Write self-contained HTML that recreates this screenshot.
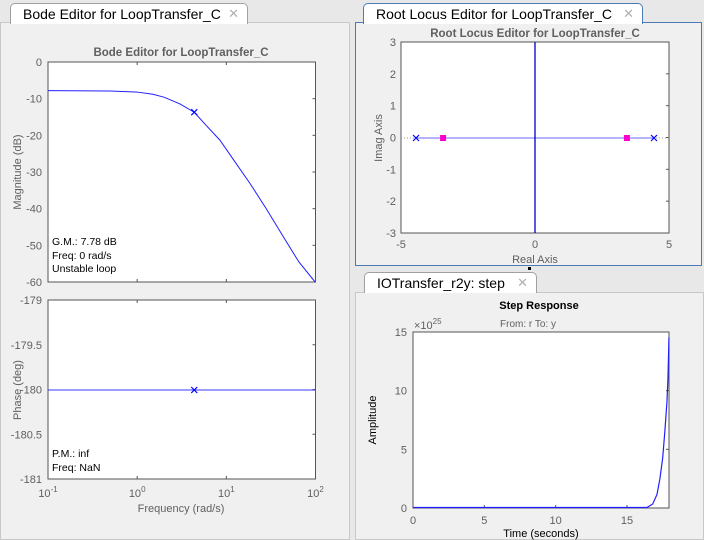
<!DOCTYPE html>
<html><head><meta charset="utf-8"><style>
body{margin:0;width:704px;height:540px;background:#e8e8e8;font-family:"Liberation Sans",sans-serif;overflow:hidden;position:relative}
.panel{position:absolute;background:#f0f0f0}
.tab{position:absolute;background:#fff;border:1px solid #a0a0a0;border-bottom:none;border-radius:5px 5px 0 0;font-size:14px;color:#000;padding-left:12px;box-sizing:border-box;line-height:20px}
.tab span{position:absolute;right:8px;top:0;color:#b0b0b0;font-size:13px}
svg{position:absolute;left:0;top:0}
</style></head><body>
<div class="panel" style="left:0;top:22px;width:350px;height:518px;border:1px solid #c8c8c8;box-sizing:border-box"></div>
<div class="panel" style="left:355px;top:22px;width:347px;height:244px;border:1px solid #4a7bb5;box-sizing:border-box"></div>
<div class="panel" style="left:355px;top:292px;width:349px;height:248px;border:1px solid #c8c8c8;box-sizing:border-box"></div>
<div class="tab" style="left:10px;top:3px;width:238px;height:21px">Bode Editor for LoopTransfer_C<span>✕</span></div>
<div class="tab" style="left:363px;top:3px;width:280px;height:21px;border-color:#4a7bb5">Root Locus Editor for LoopTransfer_C<span>✕</span></div>
<div class="tab" style="left:364px;top:272px;width:173px;height:21px">IOTransfer_r2y: step<span>✕</span></div>
<svg id="s" width="704" height="540"></svg>
<script>
const bodeFreq=[0.1,0.5,1,1.5,2,3,4.37,6,8.47,12,18.4,28,43.4,65,99];
const bodeMag=[-7.8,-7.9,-8.2,-8.8,-9.6,-11.4,-13.7,-17.4,-21.3,-26.6,-33.1,-40,-47.6,-54.5,-60];
const bodeMarkerFreq=4.37, bodeMarkerMag=-13.7;
const phaseFreq=[0.1,100]; const phaseVal=[-180,-180];
const magTicks=[0,-10,-20,-30,-40,-50,-60];
const phaseTicks=[-179,-179.5,-180,-180.5,-181];
const freqTicks=[-1,0,1,2];
const rlPoles=[-4.44,4.44]; const rlZeros=[-3.43,3.43];
const rlXTicks=[-5,0,5]; const rlYTicks=[3,2,1,0,-1,-2,-3];
const stepT=[0,16.4,16.8,17.1,17.3,17.5,17.66,17.8,17.87,17.94];
const stepY=[0,0,0.3,1.1,2.4,4.2,6.6,9,11,14.5];
const stepXTicks=[0,5,10,15]; const stepYTicks=[0,5,10,15];
const S=document.getElementById('s');const NS='http://www.w3.org/2000/svg';
function el(t,a,txt){const e=document.createElementNS(NS,t);for(const k in a)e.setAttribute(k,a[k]);if(txt!==undefined)e.textContent=txt;S.appendChild(e);return e;}
function txt(x,y,s,name,opt){opt=opt||{};const e=el('text',{x:x,y:y,'font-size':opt.fs||11,fill:opt.fill||'#606060','text-anchor':opt.anchor||'middle','font-weight':opt.fw||'normal','font-family':'Liberation Sans, sans-serif'},s);if(opt.rot)e.setAttribute('transform','rotate(-90 '+x+' '+y+')');return e;}
function box(x0,y0,x1,y1,name){const r=el('rect',{x:x0,y:y0,width:x1-x0,height:y1-y0,fill:'#fff',stroke:'#555','stroke-width':1});}
function cross(x,y,name){const p=el('path',{d:`M${x-3},${y-3}L${x+3},${y+3}M${x-3},${y+3}L${x+3},${y-3}`,stroke:'#0000ff','stroke-width':1.2,fill:'none'});}
function line(pts,name,c,w){const p=el('polyline',{points:pts.map(q=>q.join(',')).join(' '),fill:'none',stroke:c,'stroke-width':w||1});return p;}
// Bode
const bx0=48,bx1=315.5;const fx=f=>bx0+(Math.log10(f)+1)/3*(bx1-bx0);
const my=v=>62+(-v)/60*220; const py=v=>300+(-179-v)/2*179;
txt(181,56,'Bode Editor for LoopTransfer_C','bode-title',{fw:'bold',fs:11.5});
box(bx0,62,bx1,282,'magnitude-axes');box(bx0,300,bx1,479,'phase-axes');
magTicks.forEach(v=>{txt(42,my(v)+4,String(v),'mag-tick-label',{anchor:'end'});el('line',{x1:bx1-3,x2:bx1,y1:my(v),y2:my(v),stroke:'#555'});});
phaseTicks.forEach(v=>{txt(42,py(v)+4,String(v),'phase-tick-label',{anchor:'end'});el('line',{x1:bx1-3,x2:bx1,y1:py(v),y2:py(v),stroke:'#555'});});
freqTicks.forEach(k=>{const x=fx(Math.pow(10,k));const t=txt(x,497,'','freq-tick-label',{});t.innerHTML='10<tspan dy="-5" font-size="8">'+k+'</tspan>';
 [62,300].forEach(y=>el('line',{x1:x,x2:x,y1:y,y2:y+3,stroke:'#555'}));[282,479].forEach(y=>el('line',{x1:x,x2:x,y1:y,y2:y-3,stroke:'#555'}));});
txt(181,512,'Frequency (rad/s)','freq-axis-title',{});
txt(21,172,'Magnitude (dB)','mag-axis-title',{rot:1});
txt(21,390,'Phase (deg)','phase-axis-title',{rot:1});
line(bodeFreq.map((f,i)=>[fx(f),my(bodeMag[i])]),'magnitude-curve','#2020ff');
cross(fx(bodeMarkerFreq),my(bodeMarkerMag),'magnitude-marker');
line(phaseFreq.map((f,i)=>[fx(f),py(phaseVal[i])+0.5]),'phase-curve','#3a3aff');
cross(fx(bodeMarkerFreq),py(-180)+0.5,'phase-marker');
[['G.M.: 7.78 dB',245],['Freq: 0 rad/s',259],['Unstable loop',272]].forEach((a,i)=>txt(52,a[1],a[0],'gain-margin-text-'+i,{anchor:'start',fill:'#000',fs:10.5}));
[['P.M.: inf',457],['Freq: NaN',471]].forEach((a,i)=>txt(52,a[1],a[0],'phase-margin-text-'+i,{anchor:'start',fill:'#000',fs:10.5}));
// Root locus
const rx=v=>401+(v+5)/10*(669-401); const ry=v=>42+(3-v)/6*(233-42);
txt(535,37,'Root Locus Editor for LoopTransfer_C','root-locus-title',{fw:'bold',fs:11.5});
box(401,42,669,233,'root-locus-axes');
rlYTicks.forEach(v=>{txt(396,ry(v)+4,String(v),'rl-y-tick-label',{anchor:'end'});el('line',{x1:669-3,x2:669,y1:ry(v),y2:ry(v),stroke:'#555'});});
rlXTicks.forEach(v=>{txt(rx(v),248,String(v),'rl-x-tick-label',{});});
txt(535,263,'Real Axis','rl-x-axis-title',{});
txt(382,138,'Imag Axis','rl-y-axis-title',{rot:1});
line([[rx(-5),ry(0)+0.5],[rx(5),ry(0)+0.5]],'rl-dotted-axis','#999').setAttribute('stroke-dasharray','1,2');
line([[rx(rlPoles[0]),ry(0)+0.5],[rx(rlPoles[1]),ry(0)+0.5]],'rl-locus-branch','#6a6aff');
line([[rx(0),ry(3)],[rx(0),ry(-3)]],'rl-imag-branch','#0000cc',1.3);
rlPoles.forEach((p,i)=>cross(rx(p),ry(0)+0.5,'rl-pole-'+i));
rlZeros.forEach((z,i)=>{const r=el('rect',{x:rx(z)-3,y:ry(0)-2.5,width:6,height:6,fill:'#ff00cc'});});
el('rect',{x:528,y:267,width:3,height:3,fill:'#000'});
// Step
const sx=v=>413+v/15*(627-413); const sy=v=>508-v/15*(508-332);
txt(539,309,'Step Response','step-title',{fw:'bold',fill:'#000',fs:11});
txt(528,327,'From: r  To: y','step-subtitle',{fs:10});
box(413,332,669,508,'step-axes');
const ex=txt(414,329,'','step-exponent',{anchor:'start'});ex.innerHTML='×10<tspan dy="-5" font-size="8">25</tspan>';
stepYTicks.forEach(v=>{txt(407,sy(v)+4,String(v),'step-y-tick-label',{anchor:'end'});el('line',{x1:666,x2:669,y1:sy(v),y2:sy(v),stroke:'#555'});});
stepXTicks.forEach(v=>{txt(sx(v),524,String(v),'step-x-tick-label',{});el('line',{x1:sx(v),x2:sx(v),y1:508,y2:505,stroke:'#555'});});
txt(541,537,'Time (seconds)','step-x-axis-title',{fill:'#000'});
txt(376,420,'Amplitude','step-y-axis-title',{rot:1,fill:'#000'});
line(stepT.map((t,i)=>[sx(t),sy(stepY[i])-0.5]),'step-response-curve','#2020ff',1.2);
</script>
</body></html>
